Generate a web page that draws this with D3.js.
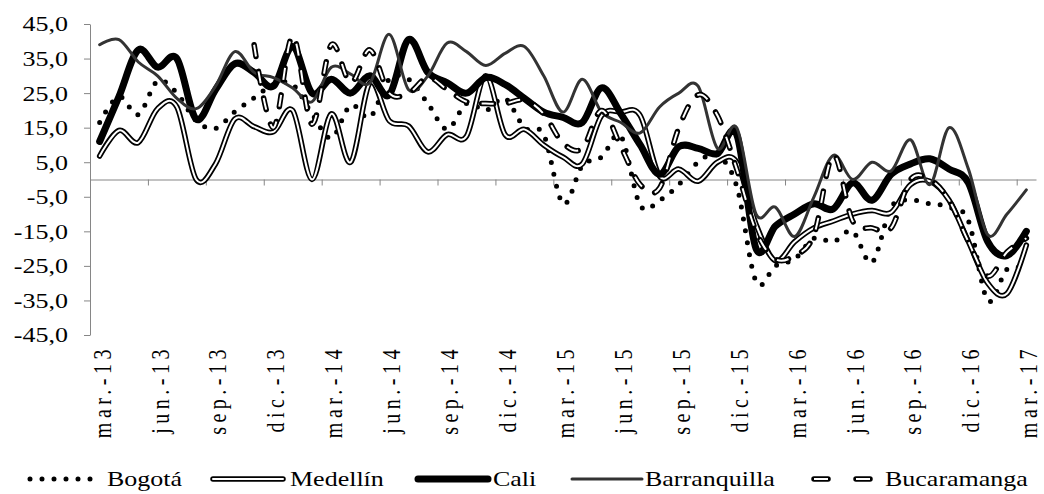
<!DOCTYPE html>
<html>
<head>
<meta charset="utf-8">
<script src="https://cdn.jsdelivr.net/npm/d3@7"></script>
<style>
body { margin: 0; background: #fff; }
text { font-family: "Liberation Serif", "Times New Roman", serif; fill: #000; }
</style>
</head>
<body>
<svg id="chart" width="1044" height="494"></svg>
<script>
let w = 1044
let h = 494

// monthly categories, mar-13 .. mar-17
let months = [
  "mar.-13","abr.-13","may.-13","jun.-13","jul.-13","ago.-13","sep.-13","oct.-13","nov.-13","dic.-13",
  "ene.-14","feb.-14","mar.-14","abr.-14","may.-14","jun.-14","jul.-14","ago.-14","sep.-14","oct.-14","nov.-14","dic.-14",
  "ene.-15","feb.-15","mar.-15","abr.-15","may.-15","jun.-15","jul.-15","ago.-15","sep.-15","oct.-15","nov.-15","dic.-15",
  "ene.-16","feb.-16","mar.-16","abr.-16","may.-16","jun.-16","jul.-16","ago.-16","sep.-16","oct.-16","nov.-16","dic.-16",
  "ene.-17","feb.-17","mar.-17"
]
let labelMonths = months.filter((m, i) => i % 3 === 0)
let yTicks = [-45, -35, -25, -15, -5, 5, 15, 25, 35, 45]

let bogota = [16.5, 24, 18.8, 28.5, 25, 17, 14.8, 19.6, 23.6, 27.5, 27.5, 19, 12, 21.5, 18, 29, 29, 22, 14.5, 22, 20, 23.5,
  15, 13, -7, 4, 6.5, 12.5, -7.5, -6, -1.5, 5, 7, -2, -29.5, -25, -23, -17, -18, -15, -24, -8, -6, -7, -8, -12, -35, -26, -26]
let medellin = [6.8, 14.2, 10.7, 20.5, 21, 0, 4.5, 17.5, 15.3, 13.8, 20, 0, 19, 5, 28, 17, 15.5, 8, 13, 12.5, 30, 13,
  14.5, 10, 6.5, 4.5, 18.5, 19.5, 18.5, 1, 3, -0.5, 5, 5, -13, -23.5, -18, -14, -12, -10, -9, -9.5, -1.5, -0.5, -6, -18, -30, -33, -19]
let cali = [11, 24, 37.5, 32.5, 35, 17.5, 26, 33.5, 31, 27, 38.5, 25, 29, 25, 30, 24.5, 40.5, 31, 28, 25, 29.5, 27.5,
  23.5, 19.5, 18, 16.5, 26.5, 19, 10, 1.5, 9.5, 9, 7.5, 13, -20, -13.5, -10, -7, -8.5, -1, -6, 1.5, 4.5, 6, 3, -1, -18, -22, -15]
let barranquilla = [39, 40.5, 34, 30, 23.5, 20.5, 27, 37, 31, 29.5, 26.5, 22.5, 32.5, 30.5, 28, 42, 26, 30, 39.5, 37, 33, 36.5,
  38.5, 30, 19.5, 29, 19.5, 16.5, 13.5, 21, 25, 27, 9, 15, -10, -8, -16.5, -5, 7, 0, 5, 2.5, 11.5, -1.5, 15, 3, -16, -10, -3]
let bucaramanga = [null, null, null, null, null, null, null, null, 39, 15, 41.5, 16, 39, 28, 37.5, 25, 25, 29.5, 26, 22.5, 22, 22,
  23, 19, 10.5, 9, 20, 9.5, -1.5, -2.5, 15, 24.5, 18.5, 3, -15, -23, -22, -16, 7, -12, -14, -14, 0, 0, -6, -18, -28, -21, -17]

let seriesNames = ["Bogotá", "Medellín", "Cali", "Barranquilla", "Bucaramanga"]
let seriesData = [bogota, medellin, cali, barranquilla, bucaramanga]

let svg = d3.select('#chart')
let sx = 1.3   // text is drawn a little wide, like the source image

let x = d3.scalePoint().domain(months).range([90, 1036]).padding(0.5)
let xb = d3.scaleLinear().domain([0, months.length]).range([90, 1036])
let y = d3.scaleLinear().domain([-45, 45]).range([335, 24])

// y axis
let yAxis = svg.append('g')
  .attr('transform', 'translate(90,0)')
  .call(d3.axisLeft(y).tickValues(yTicks).tickSize(6).tickSizeOuter(0)
    .tickFormat(d => d.toFixed(1).replace('.', ',')))
yAxis.select('.domain').attr('stroke', '#868686')
yAxis.selectAll('.tick line').attr('stroke', '#868686')
yAxis.selectAll('.tick text')
  .attr('x', null).attr('dy', null)
  .attr('transform', 'translate(-22,0) scale(' + sx + ',1)')
  .attr('dominant-baseline', 'central')
  .style('font-size', '20px')
  .style('font-family', '"Liberation Serif", serif')

// x axis at zero
let xAxis = svg.append('g')
  .attr('transform', 'translate(0,' + y(0) + ')')
  .call(d3.axisBottom(xb).tickValues(d3.range(3, months.length, 3)).tickSize(6).tickSizeOuter(0).tickFormat(''))
xAxis.select('.domain').attr('stroke', '#868686')
xAxis.selectAll('.tick line').attr('stroke', '#868686')

svg.append('g').selectAll('text')
  .data(labelMonths)
  .join('text')
  .attr('transform', d => 'translate(' + (x(d) + 2) + ',345) rotate(-90) scale(1,' + sx + ')')
  .attr('text-anchor', 'end')
  .attr('dominant-baseline', 'central')
  .style('font-size', '20px')
  .style('letter-spacing', '4.5px')
  .text(d => d)

// lines
let line = d3.line()
  .defined(d => d != null)
  .x((d, i) => x(months[i]))
  .y(d => y(d))
  .curve(d3.curveCatmullRom.alpha(0))

let styles = [
  [{ stroke: '#000', width: 5, dash: '0 12', cap: 'round' }],
  [{ stroke: '#000', width: 5.5, dash: null, cap: 'round' }, { stroke: '#fff', width: 2, dash: null, cap: 'round' }],
  [{ stroke: '#000', width: 7, dash: null, cap: 'round' }],
  [{ stroke: '#333', width: 3, dash: null, cap: 'round' }],
  [{ stroke: '#000', width: 5.5, dash: '12 15', cap: 'round' }, { stroke: '#fff', width: 2, dash: '12 15', cap: 'butt' }]
]

let plot = svg.append('g')
seriesData.forEach((vals, k) => {
  styles[k].forEach(st => {
    plot.append('path')
      .datum(vals)
      .attr('d', line)
      .attr('fill', 'none')
      .attr('stroke', st.stroke)
      .attr('stroke-width', st.width)
      .attr('stroke-dasharray', st.dash)
      .attr('stroke-linecap', st.cap)
      .attr('stroke-linejoin', 'round')
  })
})

// legend
let legendX = [30, 213, 418, 572, 810]
let legend = svg.append('g')
  .selectAll('g')
  .data(seriesNames)
  .join('g')
  .attr('transform', (d, i) => 'translate(' + legendX[i] + ',479)')

legend.each(function (d, i) {
  let g = d3.select(this)
  styles[i].forEach(st => {
    g.append('line')
      .attr('x1', i === 4 ? 4 : 0).attr('x2', i === 4 ? 60 : 70)
      .attr('y1', 0).attr('y2', 0)
      .attr('stroke', st.stroke)
      .attr('stroke-width', st.width)
      .attr('stroke-dasharray', i === 4 ? '14 28' : st.dash)
      .attr('stroke-linecap', st.cap)
  })
})

let legendTextX = [77, 77, 75, 73, 75]
legend.append('text')
  .attr('transform', (d, i) => 'translate(' + legendTextX[i] + ',0) scale(' + sx + ',1)')
  .attr('dominant-baseline', 'central')
  .style('font-size', '20px')
  .text(d => d)
</script>
</body>
</html>
